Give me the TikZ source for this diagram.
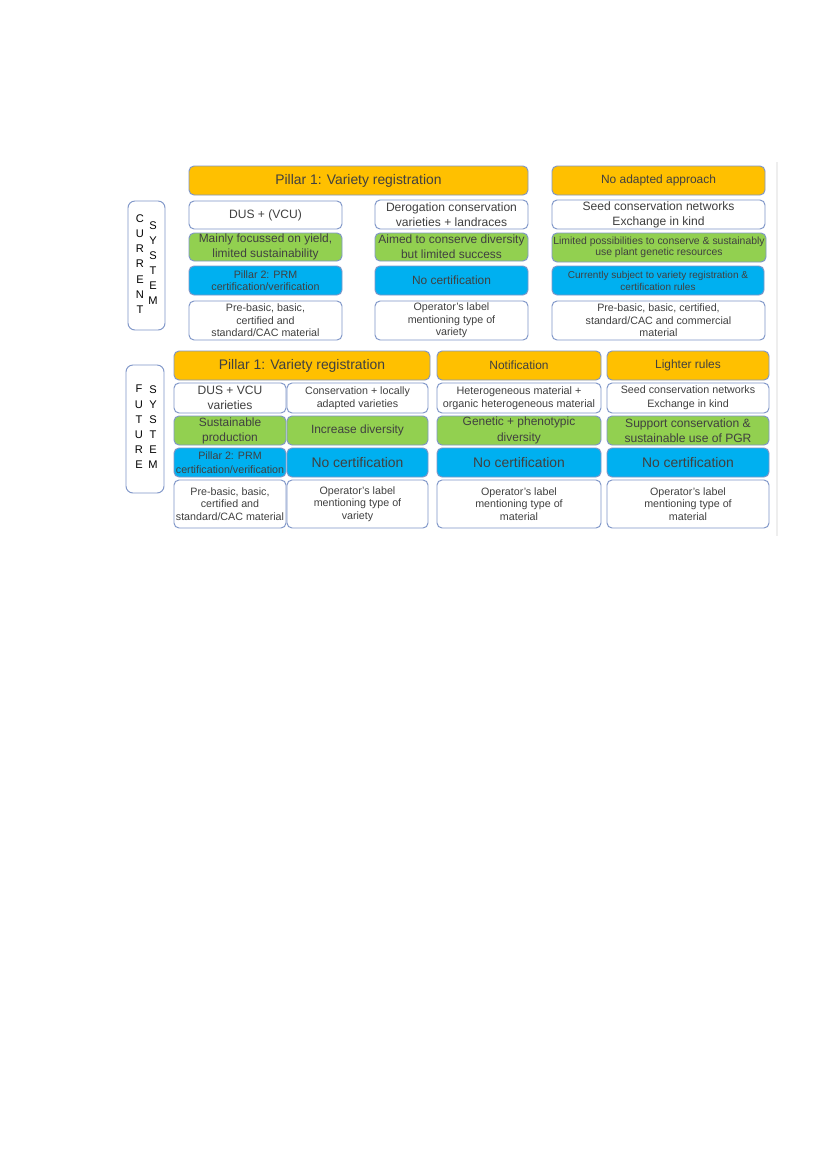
\documentclass[tikz,border=0pt]{standalone}
\usepackage{fontspec}
\setmainfont{Liberation Sans}
\definecolor{orangefill}{HTML}{FFC000}
\definecolor{greenfill}{HTML}{92D050}
\definecolor{bluefill}{HTML}{00B0F0}
\definecolor{bordercol}{HTML}{7F96C8}
\definecolor{textgray}{HTML}{404040}
\definecolor{faintline}{HTML}{EEEEEE}
\newcommand{\pbox}[7]{%
  \pgfmathsetmacro{\pbw}{(#5-#3)*0.72}%
  \pgfmathsetmacro{\pbh}{(#6-#4)*0.72}%
  \node[#2, minimum width=\pbw pt, minimum height=\pbh pt] (#1) at ({(#3+#5)/2},{(#4+#6)/2}) {#7};%
}
\tikzset{
  fs/.style 2 args={font=\fontsize{#1}{#2}\selectfont},
  basebox/.style={draw=bordercol, line width=0.7pt, rounded corners=3.6pt, inner sep=0pt, align=center, text=textgray},
  whitebox/.style={basebox, fill=white},
  orangebox/.style={basebox, fill=orangefill},
  greenbox/.style={basebox, fill=greenfill},
  bluebox/.style={basebox, fill=bluefill},
  sidebox/.style={draw=bordercol, line width=0.7pt, rounded corners=5pt, fill=white},
  sidetext/.style={inner sep=0pt, align=center, text=black, fs={8}{10.9}},
}
\begin{document}
\begin{tikzpicture}[x=0.72pt, y=-0.72pt]
\useasboundingbox[fill=white] (0,0) rectangle (827,1169);
\draw[faintline, line width=0.8pt] (777,162) -- (777,536);

% ---------------- CURRENT SYSTEM ----------------
\pbox{curside}{sidebox}{128}{201}{165}{330}{}
\node[sidetext] (curA) at (140,264) {C\\U\\R\\R\\E\\N\\T};
\node[sidetext] (curB) at (153,263) {S\\Y\\S\\T\\E\\M};

\pbox{cp1}{orangebox, fs={10}{12}}{189}{166}{528}{195}{Pillar 1: Variety registration}
\pbox{cna}{orangebox, fs={8.6}{10.8}}{552}{166}{765}{195}{No adapted approach}

\pbox{cw1}{whitebox, fs={8.7}{10.8}}{189}{201}{342}{229}{DUS + (VCU)}
\pbox{cw2}{whitebox, fs={8.7}{10.8}}{375}{200}{528}{229}{Derogation conservation\\varieties + landraces}
\pbox{cw3}{whitebox, fs={8.7}{10.8}}{552}{200}{765}{229}{Seed conservation networks\\Exchange in kind}

\pbox{cg1}{greenbox, fs={8.6}{10.8}}{189}{233}{342}{261}{Mainly focussed on yield,\\limited sustainability}
\pbox{cg2}{greenbox, fs={8.6}{10.8}}{375}{233}{528}{261}{Aimed to conserve diversity\\but limited success}
\pbox{cg3}{greenbox, fs={7.5}{8.2}}{552}{233}{766}{262}{Limited possibilities to conserve \& sustainably\\use plant genetic resources}

\pbox{cb1}{bluebox, fs={7.7}{8.9}}{189}{266}{342}{295}{Pillar 2: PRM\\certification/verification}
\pbox{cb2}{bluebox, fs={8.6}{10.8}}{375}{266}{528}{295}{No certification}
\pbox{cb3}{bluebox, fs={7.2}{8.6}}{552}{266}{764}{295}{Currently subject to variety registration \&\\certification rules}

\pbox{cm1}{whitebox, fs={7.7}{9}}{189}{301}{342}{340}{Pre-basic, basic,\\certified and\\standard/CAC material}
\pbox{cm2}{whitebox, fs={7.7}{9}}{375}{301}{528}{340}{Operator’s label\\mentioning type of\\variety}
\pbox{cm3}{whitebox, fs={7.7}{9}}{552}{301}{765}{340}{Pre-basic, basic, certified,\\standard/CAC and commercial\\material}

% ---------------- FUTURE SYSTEM ----------------
\pbox{futside}{sidebox}{126}{365}{164}{493}{}
\node[sidetext] (futA) at (139,427) {F\\U\\T\\U\\R\\E};
\node[sidetext] (futB) at (153,427) {S\\Y\\S\\T\\E\\M};

\pbox{fp1}{orangebox, fs={10}{12}}{174}{351}{430}{380}{Pillar 1: Variety registration}
\pbox{fnot}{orangebox, fs={8.6}{10.8}}{437}{351}{601}{380}{Notification}
\pbox{flr}{orangebox, fs={8.6}{10.8}}{607}{351}{769}{380}{Lighter rules}

\pbox{fw1}{whitebox, fs={8.7}{10.8}}{174}{383}{286}{413}{DUS + VCU\\varieties}
\pbox{fw2}{whitebox, fs={7.7}{9.4}}{287}{383}{428}{413}{Conservation + locally\\adapted varieties}
\pbox{fw3}{whitebox, fs={7.8}{9.7}}{437}{383}{601}{413}{Heterogeneous material +\\organic heterogeneous material}
\pbox{fw4}{whitebox, fs={7.7}{10}}{607}{383}{769}{413}{Seed conservation networks\\Exchange in kind}

\pbox{fg1}{greenbox, fs={8.6}{10.8}}{174}{416}{286}{445}{Sustainable\\production}
\pbox{fg2}{greenbox, fs={8.6}{10.8}}{287}{416}{428}{445}{Increase diversity}
\pbox{fg3}{greenbox, fs={8.6}{11}}{437}{416}{601}{445}{Genetic + phenotypic\\diversity}
\pbox{fg4}{greenbox, fs={8.7}{10.8}}{607}{416}{769}{445}{Support conservation \&\\sustainable use of PGR}

\pbox{fb1}{bluebox, fs={7.7}{10}}{174}{448}{286}{477}{Pillar 2: PRM\\certification/verification}
\pbox{fb2}{bluebox, fs={10}{12}}{287}{448}{428}{477}{No certification}
\pbox{fb3}{bluebox, fs={10}{12}}{437}{448}{601}{477}{No certification}
\pbox{fb4}{bluebox, fs={10}{12}}{607}{448}{769}{477}{No certification}

\pbox{fm1}{whitebox, fs={7.7}{9}}{174}{480}{286}{528}{Pre-basic, basic,\\certified and\\standard/CAC material}
\pbox{fm2}{whitebox, fs={7.7}{9}}{287}{480}{428}{528}{Operator’s label\\mentioning type of\\variety}
\pbox{fm3}{whitebox, fs={7.7}{9}}{437}{480}{601}{528}{Operator’s label\\mentioning type of\\material}
\pbox{fm4}{whitebox, fs={7.7}{9}}{607}{480}{769}{528}{Operator’s label\\mentioning type of\\material}
\end{tikzpicture}
\end{document}
